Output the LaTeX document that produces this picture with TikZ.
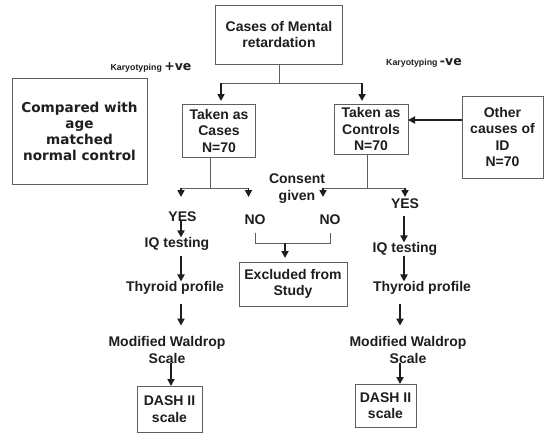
\documentclass[tikz,border=0pt]{standalone}
\usepackage{fontspec}
\setmainfont{Liberation Sans}
\newfontfamily\verdfont{DejaVu Sans}
\usetikzlibrary{positioning}
\usetikzlibrary{arrows.meta}
\definecolor{inkgray}{HTML}{1E1E1E}
\definecolor{rulegray}{HTML}{5E5E5E}
\tikzset{
	x=1pt, y=-1pt,
	every node/.style={align=center, text=inkgray, inner sep=0pt, outer sep=0pt,
		font=\bfseries\fontsize{14}{16.5}\selectfont},
	box/.style={draw=rulegray, line width=0.9pt},
	bigbox/.style={box, font=\verdfont\bfseries\fontsize{13.6}{15.8}\selectfont},
	link/.style={draw=rulegray, line width=0.9pt},
	flow/.style={-{Triangle[length=7pt,width=7pt]}, line width=1.7pt, draw=inkgray},
	tiny/.style={font=\bfseries\fontsize{8.8}{10}\selectfont}
}

\begin{document}
\begin{tikzpicture}
	\path[use as bounding box, fill=white] (0,0) rectangle (545,432);

	% top of the chart
	\node (mr) [box, minimum width=127pt, minimum height=59pt] at (279,34.5) {Cases of Mental\\retardation};
	\node (kpos) [tiny] at (151,68) {Karyotyping {\verdfont\bfseries\fontsize{12.5}{14}\selectfont +ve}};
	\node (kneg) [tiny] at (424,63) {Karyotyping {\verdfont\bfseries\fontsize{12.5}{14}\selectfont -ve}};

	\node (cmp) [bigbox, minimum width=135pt, minimum height=106pt] at (79.5,131.5) {Compared with\\age\\matched\\normal control};
	\node (cases) [box, minimum width=72.5pt, minimum height=53pt] at (219,130.5) {Taken as\\Cases\\N=70};
	\node (ctrl) [box, minimum width=74pt, minimum height=50pt] at (371,129) {Taken as\\Controls\\N=70};
	\node (other) [box, minimum width=81pt, minimum height=82pt] at (502.5,137) {Other\\causes of\\ID\\N=70};

	% consent
	\node (consent) at (297,188.5) {Consent\\given};
	\node (yes1) at (182.5,216.5) {YES};
	\node (no1) at (255,220) {NO};
	\node (no2) at (330,220) {NO};
	\node (yes2) at (405,204) {YES};
	\node (exc) [box, minimum width=108pt, minimum height=44pt] at (293,284) {Excluded from\\Study};

	% left column
	\node (iq1) at (177,244) {IQ testing};
	\node (thy1) at (175,288) {Thyroid profile};
	\node (mw1) at (167,350) {Modified Waldrop\\Scale};
	\node (dash1) [box, minimum width=65pt, minimum height=46pt] at (169.5,409) {DASH II\\scale};

	% right column
	\node (iq2) at (405,249) {IQ testing};
	\node (thy2) at (422,288) {Thyroid profile};
	\node (mw2) at (408,350) {Modified Waldrop\\Scale};
	\node (dash2) [box, minimum width=61pt, minimum height=43pt] at (385.5,405.5) {DASH II\\scale};

	\coordinate (ja) at (221,83);
	\coordinate (jb) at (362,83);
	\coordinate (ta) at (221,101);
	\coordinate (tb) at (362,101);
	\coordinate (ka) at (181,188);
	\coordinate (kb) at (248.5,188);
	\coordinate (la) at (323,188);
	\coordinate (lb) at (405,188);
	\coordinate (tip) at (0,197);
	\coordinate (brk) at (0,243);
	\coordinate (colL) at (181,0);
	\coordinate (colLb) at (171,0);
	\coordinate (colR) at (404,0);
	\coordinate (colRb) at (400,0);

	\draw[link] (mr.south) -- (mr.south |- ja);
	\draw[link] (ja) -- (jb);
	\draw[flow] (ja) -- (ta);
	\draw[flow] (jb) -- (tb);

	\draw[flow] ([yshift=17pt]other.west) -- ([yshift=9pt]ctrl.east);

	\draw[link] ([xshift=-9pt]cases.south) -- ([xshift=-9pt]cases.south |- ka);
	\draw[link] (ka) -- (kb);
	\draw[flow] (ka) -- (ka |- tip);
	\draw[flow] (kb) -- (kb |- tip);
	\draw[link] ([xshift=-4pt]ctrl.south) -- ([xshift=-4pt]ctrl.south |- la);
	\draw[link] (la) -- (lb);
	\draw[flow] (la) -- (la |- tip);
	\draw[flow] (lb) -- (lb |- tip);

	\draw[link] ([yshift=-8pt]no1.south) -- (no1.south |- brk) -- (no2.south |- brk) -- ([yshift=-8pt]no2.south);
	\draw[flow, shorten >=4pt] ([xshift=-8pt]exc.north |- brk) -- ([xshift=-8pt]exc.north);

	\draw[flow] (yes1.south -| colL) -- (iq1.north -| colL);
	\draw[flow, shorten <=5pt] (iq1.south -| colL) -- (thy1.north -| colL);
	\draw[flow, shorten <=9pt, shorten >=11pt] (thy1.south -| colL) -- (mw1.north -| colL);
	\draw[flow] (mw1.south -| colLb) -- (dash1.north -| colLb);

	\draw[flow, shorten <=7pt] (yes2.south -| colR) -- (iq2.north -| colR);
	\draw[flow] (iq2.south -| colR) -- (thy2.north -| colR);
	\draw[flow, shorten <=9pt, shorten >=11pt] (thy2.south -| colRb) -- (mw2.north -| colRb);
	\draw[flow] (mw2.south -| colRb) -- (dash2.north -| colRb);
\end{tikzpicture}
\end{document}
